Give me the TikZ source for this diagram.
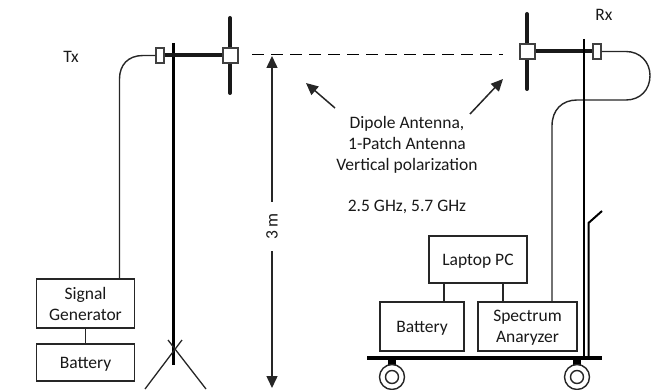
\documentclass[tikz,border=0pt]{standalone}
\usepackage{fontspec}
\setmainfont{Carlito}
\usetikzlibrary{arrows.meta}
\newcommand{\lowertext}[1]{\raisebox{-1.5pt}[\height][\depth]{#1}}
\tikzset{
  x=1pt,y=-1pt,
  line/.style={draw=black!85,line width=1.3pt},
  wire/.style={draw=black!85,line width=1.4pt},
  pole/.style={draw=black,line width=2.6pt},
  elem/.style={draw=black!90,line width=4pt},
  lab/.style={font=\fontsize{17.5}{21}\selectfont,text=black!90,align=center,inner sep=0pt},
  unit/.style={draw=black!85,line width=1.4pt,fill=white,font=\fontsize{17.5}{21}\selectfont,text=black!90,align=center,inner sep=0pt,minimum width=#1},
  feedbox/.style={draw=black!75,line width=1.3pt,fill=white,minimum width=8pt,minimum height=15pt,inner sep=0pt},
  ant/.style={draw=black!75,line width=1.5pt,fill=white,minimum size=15pt,inner sep=0pt},
  tip/.style={-{Triangle[length=12pt,width=11pt]},draw=black!85,line width=1.5pt},
}
\begin{document}
\begin{tikzpicture}
\useasboundingbox (0,0) rectangle (655,390);
\clip (0,0) rectangle (655,390);
% coordinates
\coordinate (txtop) at (173.5,43);
\coordinate (txbot) at (173.5,365);
\coordinate (txdt) at (230,18);
\coordinate (txdb) at (230,93);
\coordinate (rxtop) at (584,39);
\coordinate (rxbot) at (584,357);
\coordinate (rxdt) at (527,14);
\coordinate (rxdb) at (527,89);
% Tx mast
\draw[pole] (txtop) -- (txbot);
\coordinate (t1a) at (182,340); \coordinate (t1b) at (145,389);
\coordinate (t2a) at (168,340); \coordinate (t2b) at (206,389);
\draw[line] (t1a) -- (t1b);
\draw[line] (t2a) -- (t2b);
% Tx antenna
\node[feedbox] (txfeed) at (160,55.5) {};
\node[ant] (txant) at (230.5,55.5) {};
\draw[elem,line cap=round] (txdt) -- (txdb);
\draw[elem] (txfeed) -- (txant);
\node[ant] at (230.5,55.5) {};
% Tx units
\node[unit=98.5pt,minimum height=49pt] (sg) at (85.5,303.5) {Signal\\Generator};
\node[unit=98.5pt,minimum height=37pt] (txbat) at (85.5,362.5) {\lowertext{Battery}};
\draw[wire] (sg) -- (txbat);
\draw[wire] (txfeed.west) -- (143,55.5) .. controls (128,55.5) and (119.5,65) .. (119.5,79) -- (119.5,279);
% Tx label
\node[lab] (tx) at (71,57) {Tx};
% link
\coordinate (d1) at (252,54); \coordinate (d2) at (503,54);
\draw[draw=black,line width=0.9pt,dash pattern=on 12pt off 7pt] (d1) -- (d2);
% 3 m
\coordinate (h1) at (272,56); \coordinate (h2) at (272,388);
\node[lab,rotate=90,minimum width=49pt] (dist) at (272,226.5) {3 m};
\draw[tip] (dist.east) -- (h1);
\draw[tip] (dist.west) -- (h2);
% Pointers
\node[lab] (dp) at (407,144.5) {Dipole Antenna,\\1-Patch Antenna\\Vertical polarization};
\node[lab] (fr) at (407,206.5) {2.5 GHz, 5.7 GHz};
\coordinate (p1a) at (335,108); \coordinate (p1b) at (306,83);
\coordinate (p2a) at (470,114); \coordinate (p2b) at (503,79);
\draw[tip] (p1a) -- (p1b);
\draw[tip] (p2a) -- (p2b);
% Rx
\node[feedbox] (rxfeed) at (597,51.5) {};
\node[ant] (rxant) at (527.5,51.5) {};
\draw[elem,line cap=round] (rxdt) -- (rxdb);
\draw[elem] (rxant) -- (rxfeed);
\node[ant] at (527.5,51.5) {};
\node[feedbox] at (597,51.5) {};
\node[lab] (rx) at (604,15) {Rx};
% cart
\coordinate (c1) at (367,358); \coordinate (c2) at (602,358);
\draw[draw=black,line width=3.2pt] (c1) -- (c2);
\coordinate (hb) at (588.5,358); \coordinate (hm) at (588.5,223); \coordinate (ht) at (602,211);
\draw[draw=black,line width=2pt] (hb) -- (hm) -- (ht);
\foreach \n/\x in {wl/392,wr/577}{
  \coordinate (\n) at (\x,377);
  \draw[draw=black,line width=8pt] (\x,358) -- (\x,367);
  \draw[draw=black!85,line width=1.4pt,fill=white] (\n) circle (12.5);
  \draw[draw=black!85,line width=1.4pt] (\n) circle (6.5);
}
% Rx units
\node[unit=98pt,minimum height=47pt] (pc) at (478,259.5) {\lowertext{Laptop PC}};
\node[unit=84pt,minimum height=49pt] (rxbat) at (422,326.5) {\lowertext{Battery}};
\node[unit=99pt,minimum height=49pt] (sa) at (527.5,326.5) {\lowertext{Spectrum}\\\lowertext{Anaryzer}};
\draw[wire] (444,283) -- (444,302);
\draw[wire] (503,283) -- (503,302);
\draw[wire] (rxfeed.east) -- (626,51.5) .. controls (640,51.5) and (650,62) .. (650,75.5) .. controls (650,90) and (640,100) .. (626,100) -- (577,100) .. controls (562,100) and (552,110) .. (552,126) -- (552,302);
\draw[pole] (rxtop) -- (rxbot);
\end{tikzpicture}
\end{document}
